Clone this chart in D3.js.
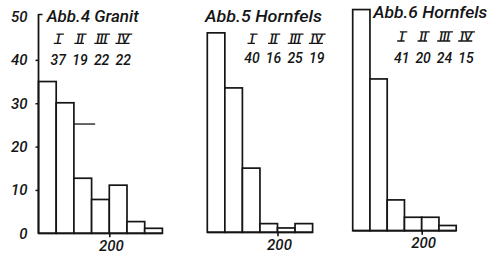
<!DOCTYPE html>
<html>
<head>
<meta charset="utf-8">
<script src="https://cdn.jsdelivr.net/npm/d3@7"></script>
<style>
  body { margin: 0; background: #fff; }
  svg { display: block; }
</style>
</head>
<body>
<div id="chart"></div>
<script>
// grain size bins, 25 wide, values are percent of grains
const binStarts = [100, 125, 150, 175, 200, 225, 250]
const binWidth = 25
const granit = [35, 30.1, 12.7, 7.8, 11.1, 2.7, 1.15]
const hornfels5 = [46, 33.3, 14.8, 2, 1, 2]
const hornfels6 = [51, 35, 7.1, 3.1, 3.1, 1.2]

const titles = ["Abb.4 Granit", "Abb.5 Hornfels", "Abb.6 Hornfels"]
const romanLabels = ["I", "II", "III", "IV"]
const granitShares = [37, 19, 22, 22]
const hornfels5Shares = [40, 16, 25, 19]
const hornfels6Shares = [41, 20, 24, 15]

const yTicks = [0, 10, 20, 30, 40, 50]
const xTicks = [200]
// short stroke drawn next to the second granit bar
const granitMark = { from: 150, to: 180, value: 25.2 }

const width = 492
const height = 254
const ink = "#151515"
const font = "Roboto, 'DejaVu Sans', sans-serif"

// layout of the three panels (scan is slightly skewed, so each gets its own baseline)
const panels = [
    { values: granit, shares: granitShares, title: titles[0], x0: 38.5, x200: 109.3, base: 233.3,
      titleX: 46.7, titleW: 92, titleY: 21.7, cols: [58.3, 123.3], romanY: 43.3, shareY: 65, axis: true },
    { values: hornfels5, shares: hornfels5Shares, title: titles[1], x0: 207.3, x200: 277.5, base: 232.3,
      titleX: 205, titleW: 117, titleY: 21.7, cols: [252, 316.7], romanY: 43.3, shareY: 63.3, axis: false },
    { values: hornfels6, shares: hornfels6Shares, title: titles[2], x0: 352.7, x200: 421.7, base: 230.7,
      titleX: 373.3, titleW: 114, titleY: 18.3, cols: [401.7, 466], romanY: 41, shareY: 63.3, axis: false }
]

const svg = d3.select("#chart")
    .append("svg")
    .attr("width", width)
    .attr("height", height)
    .attr("viewBox", [0, 0, width, height])
    .style("background", "#fff")

const lettering = (sel, size) => sel
    .attr("fill", ink)
    .style("font-family", font)
    .style("font-style", "italic")
    .style("font-weight", "500")
    .style("font-size", size + "px")

const drawPanel = (p) => {
    const g = svg.append("g")

    const x = d3.scaleLinear().domain([100, 200]).range([p.x0, p.x200])
    const y = d3.scaleLinear().domain([0, 50]).range([p.base, p.base - 216.8])

    const data = p.values.map((v, i) => ({ start: binStarts[i], value: v }))
    const lastEnd = binStarts[p.values.length - 1] + binWidth

    // bars
    g.append("g")
        .selectAll("rect")
        .data(data)
        .join("rect")
        .attr("x", d => x(d.start))
        .attr("y", d => y(d.value))
        .attr("width", d => x(d.start + binWidth) - x(d.start))
        .attr("height", d => y(0) - y(d.value))
        .attr("fill", "#fff")
        .attr("stroke", ink)
        .attr("stroke-width", 1.7)

    // baseline
    g.append("line")
        .attr("x1", x(100))
        .attr("x2", x(lastEnd))
        .attr("y1", y(0))
        .attr("y2", y(0))
        .attr("stroke", ink)
        .attr("stroke-width", 1.8)

    // x axis, only the 200 tick
    const xAxis = g.append("g")
        .attr("transform", `translate(0, ${y(0)})`)
        .call(d3.axisBottom(x).tickValues(xTicks).tickSize(4).tickPadding(3).tickFormat(d3.format("d")))
    xAxis.select(".domain").remove()
    xAxis.selectAll("line").attr("stroke", ink).attr("stroke-width", 1.6)
    xAxis.selectAll("text").attr("dx", "0.1em").call(lettering, 15)

    if (p.axis) {
        const yAxis = g.append("g")
            .attr("transform", `translate(${x(100)}, 0)`)
            .call(d3.axisLeft(y).tickValues(yTicks).tickSize(3).tickSizeOuter(0).tickPadding(8))
        yAxis.select(".domain")
            .attr("d", `M0,${y(0)}V${y(50) - 2.5}`)
            .attr("stroke", ink)
            .attr("stroke-width", 1.8)
        yAxis.selectAll(".tick line").attr("stroke", ink).attr("stroke-width", 1.5)
        // top tick points inward, zero tick is hidden under the baseline
        yAxis.selectAll(".tick").filter(d => d === 50).select("line")
            .attr("x2", 4).attr("transform", "translate(0,-2.5)")
        yAxis.selectAll(".tick").filter(d => d === 0).select("line").remove()
        yAxis.selectAll("text").call(lettering, 15)

        g.append("line")
            .attr("x1", x(granitMark.from))
            .attr("x2", x(granitMark.to))
            .attr("y1", y(granitMark.value))
            .attr("y2", y(granitMark.value))
            .attr("stroke", ink)
            .attr("stroke-width", 1.3)
    }

    // title
    g.append("text")
        .attr("x", p.titleX)
        .attr("y", p.titleY)
        .attr("textLength", p.titleW)
        .attr("lengthAdjust", "spacingAndGlyphs")
        .call(lettering, 16)
        .text(p.title)

    const col = d3.scalePoint().domain(romanLabels).range(p.cols)

    // group numerals, with the bars above and below like in the drawing
    const romans = g.append("g")
        .selectAll("g")
        .data(romanLabels)
        .join("g")
        .attr("transform", d => `translate(${col(d)}, ${p.romanY})`)
    romans.append("text")
        .attr("text-anchor", "middle")
        .call(lettering, 13)
        .text(d => d)
    romans.each(function () {
        const t = d3.select(this).select("text")
        const w = Math.max(t.node().getComputedTextLength(), 5)
        const cap = 9.2
        const slant = 1.9
        d3.select(this).append("path")
            .attr("d", `M${-w / 2 - 1.2 + slant},${-cap}h${w + 2.4} M${-w / 2 - 2},0h${w + 2.4}`)
            .attr("stroke", ink)
            .attr("stroke-width", 1.3)
            .attr("fill", "none")
    })

    g.append("g")
        .selectAll("text")
        .data(p.shares)
        .join("text")
        .attr("x", (d, i) => col(romanLabels[i]))
        .attr("y", p.shareY)
        .attr("text-anchor", "middle")
        .call(lettering, 14)
        .text(d => d)
}

panels.forEach(drawPanel)
</script>
</body>
</html>
